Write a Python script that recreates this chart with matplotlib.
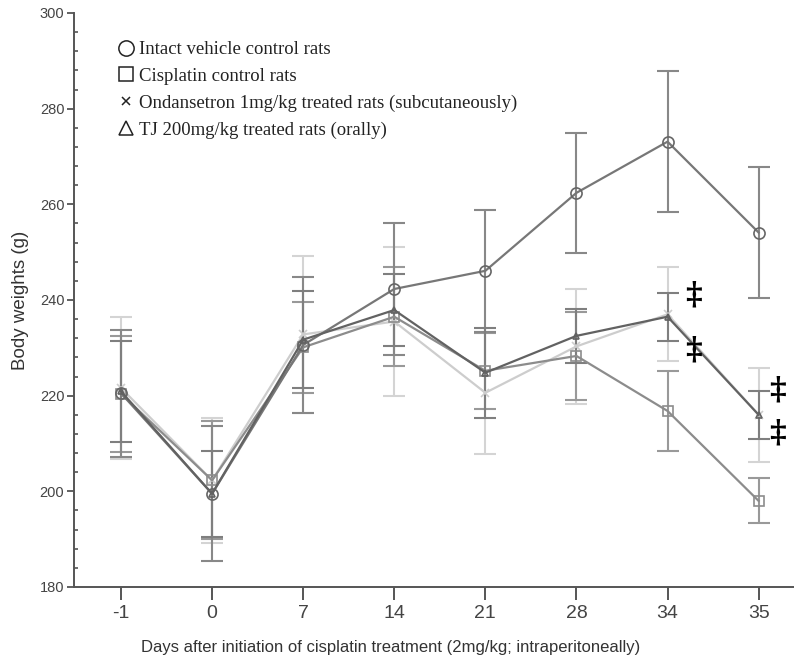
import matplotlib
matplotlib.use("Agg")
import matplotlib.pyplot as plt
from matplotlib.lines import Line2D
from matplotlib.ticker import MultipleLocator
import numpy as np

days = ["-1", "0", "7", "14", "21", "28", "34", "35"]

intact_mean = [220.5, 199.5, 230.6, 242.3, 246.1, 262.4, 273.1, 254.1]
intact_se = [13.3, 14.1, 14.2, 13.8, 12.8, 12.6, 14.7, 13.6]

cis_mean = [220.4, 202.3, 230.1, 236.5, 225.2, 228.3, 216.8, 198.0]
cis_se = [12.1, 12.3, 9.5, 10.3, 7.9, 9.2, 8.4, 4.7]

ond_mean = [221.6, 202.3, 232.8, 235.5, 220.6, 230.3, 237.0, 216.0]
ond_se = [14.9, 13.1, 16.4, 15.5, 12.8, 12.0, 9.8, 9.8]

tj_mean = [220.9, 199.5, 231.7, 237.9, 224.8, 232.5, 236.5, 216.0]
tj_se = [10.6, 9.0, 10.1, 7.6, 9.4, 5.7, 5.0, 5.0]

legend_labels = ["Intact vehicle control rats",
                 "Cisplatin control rats",
                 "Ondansetron 1mg/kg treated rats (subcutaneously)",
                 "TJ 200mg/kg treated rats (orally)"]

# significance marks: (day index, value)
sig_idx = [6, 6, 7, 7]
sig_val = [241.1, 229.6, 221.2, 212.2]

fig = plt.figure(figsize=(7.94, 6.62), dpi=100)
ax = fig.add_axes([0.0932, 0.1133, 0.907, 0.8671])

x = np.arange(len(days))

series = [
    (ond_mean, ond_se, "x", "#cdcdcd", "#d4d4d4", 6),
    (cis_mean, cis_se, "s", "#8c8c8c", "#999999", 7.5),
    (intact_mean, intact_se, "o", "#777777", "#888888", 8),
    (tj_mean, tj_se, "^", "#626262", "#7f7f7f", 5),
]
for m, se, mk, lc, ec, ms in series:
    ax.errorbar(x, m, yerr=se, fmt="none", ecolor=ec, elinewidth=1.5,
                capsize=8, capthick=1.5, zorder=2)
    ax.plot(x, m, color=lc, lw=1.6, marker=mk, ms=ms, mfc="none",
            mec=lc if mk != "o" else "#666666", mew=1.2, zorder=3)

for i, v in zip(sig_idx, sig_val):
    ax.text(x[i] + (0.285 if i == 6 else 0.21), v, "\u2021", ha="center",
            va="center", fontsize=23, fontweight="bold",
            family="DejaVu Serif", color="black", zorder=5)

ax.set_xlim(-0.516, 7.39)
ax.set_ylim(180, 300)
ax.set_xticks(x)
ax.set_xticklabels(days)
ax.yaxis.set_major_locator(MultipleLocator(20))
ax.yaxis.set_minor_locator(MultipleLocator(4))

for s in ["top", "right"]:
    ax.spines[s].set_visible(False)
for s in ["left", "bottom"]:
    ax.spines[s].set_color("#555555")
    ax.spines[s].set_linewidth(1.4)

ax.tick_params(axis="y", which="major", direction="out", length=5,
               width=1.3, color="#555555", labelsize=10.5,
               labelcolor="#444444", pad=2)
ax.tick_params(axis="y", which="minor", direction="in", length=3,
               width=1.2, color="#555555")
ax.tick_params(axis="x", which="major", direction="out", length=9,
               width=1.4, color="#555555", labelsize=14,
               labelcolor="#444444", pad=4)
for lab in ax.get_xticklabels():
    lab.set_family("Liberation Sans")
for lab in ax.get_yticklabels():
    lab.set_family("Liberation Sans")

ax.set_xlabel("Days after initiation of cisplatin treatment (2mg/kg; intraperitoneally)",
              family="Liberation Sans", fontsize=12, color="#333333",
              labelpad=13, x=0.44)
ax.set_ylabel("Body weights (g)", family="Liberation Sans", fontsize=13.5,
              color="#333333", labelpad=8)

handles = [
    Line2D([], [], ls="none", marker="o", ms=11, mfc="none", mec="#222222", mew=1.1),
    Line2D([], [], ls="none", marker="s", ms=10, mfc="none", mec="#222222", mew=1.1),
    Line2D([], [], ls="none", marker="x", ms=5.5, mfc="none", mec="#222222", mew=1.1),
    Line2D([], [], ls="none", marker="^", ms=10, mfc="none", mec="#222222", mew=1.1),
]
leg = ax.legend(handles, legend_labels, loc="upper left",
                bbox_to_anchor=(118.5 / 794, 1 - 41 / 662),
                bbox_transform=fig.transFigure, frameon=False,
                prop={"family": "Liberation Serif", "size": 13.5},
                handlelength=0.8, handletextpad=0.3, labelspacing=0.51,
                borderpad=0, borderaxespad=0)
for t in leg.get_texts():
    t.set_color("#222222")

fig.savefig("out.png", dpi=100)
